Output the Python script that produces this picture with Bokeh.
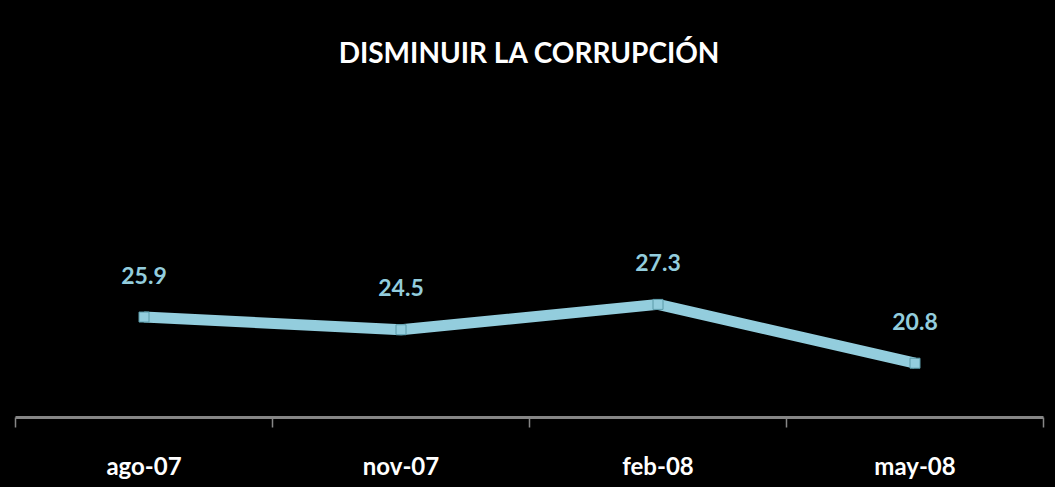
from bokeh.plotting import figure
from bokeh.models import FixedTicker, Label, ColumnDataSource, Range1d, GlobalInlineStyleSheet
from bokeh.embed import file_html
from bokeh.resources import INLINE
from bokeh.core.properties import value

# ---- data ----
categories = ["ago-07", "nov-07", "feb-08", "may-08"]
values = [25.9, 24.5, 27.3, 20.8]
title_text = "DISMINUIR LA CORRUPCIÓN"

LINE_COLOR = "#93CDDD"
FONT = "Lato"

xs = [i + 0.5 for i in range(len(categories))]
labels = [f"{v:.1f}" for v in values]
src = ColumnDataSource(dict(x=xs, y=values, label=labels))

p = figure(
    frame_width=1028, frame_height=409,
    x_range=Range1d(0, len(categories)), y_range=Range1d(14.8, 60),
    output_backend="svg", toolbar_location=None,
    min_border_left=15, min_border_right=4, min_border_top=8, min_border_bottom=60,
)
p.stylesheets = [GlobalInlineStyleSheet(css="body { background: #000000; }")]
p.background_fill_color = "black"
p.border_fill_color = "black"
p.outline_line_color = None
p.grid.visible = False
p.yaxis.visible = False

xa = p.xaxis[0]
xa.ticker = FixedTicker(ticks=xs, minor_ticks=list(range(len(categories) + 1)))
xa.major_label_overrides = {x: c for x, c in zip(xs, categories)}
xa.major_tick_in = 0
xa.major_tick_out = 0
xa.minor_tick_in = 0
xa.minor_tick_out = 10
xa.minor_tick_line_color = "#868686"
xa.minor_tick_line_width = 1.5
xa.axis_line_color = "#868686"
xa.axis_line_width = 3
xa.major_label_standoff = 23
xa.major_label_text_color = "white"
xa.major_label_text_font = FONT
xa.major_label_text_font_style = "bold"
xa.major_label_text_font_size = "24px"

p.line("x", "y", source=src, line_color=LINE_COLOR, line_width=11)
p.scatter("x", "y", source=src, marker="square", size=10,
          fill_color=LINE_COLOR, line_color="#5a9aa8", line_width=1)

p.text("x", "y", text="label", source=src, y_offset=-42,
       text_align="center", text_baseline="alphabetic",
       text_color=LINE_COLOR, text_font=value(FONT), text_font_style="bold",
       text_font_size="23px")

p.add_layout(Label(x=len(categories) / 2, y=55.2, text=title_text,
                   text_align="center", text_baseline="alphabetic",
                   text_color="white", text_font=FONT, text_font_style="bold",
                   text_font_size="28px"))

open("out.html", "w").write(file_html(p, INLINE))
